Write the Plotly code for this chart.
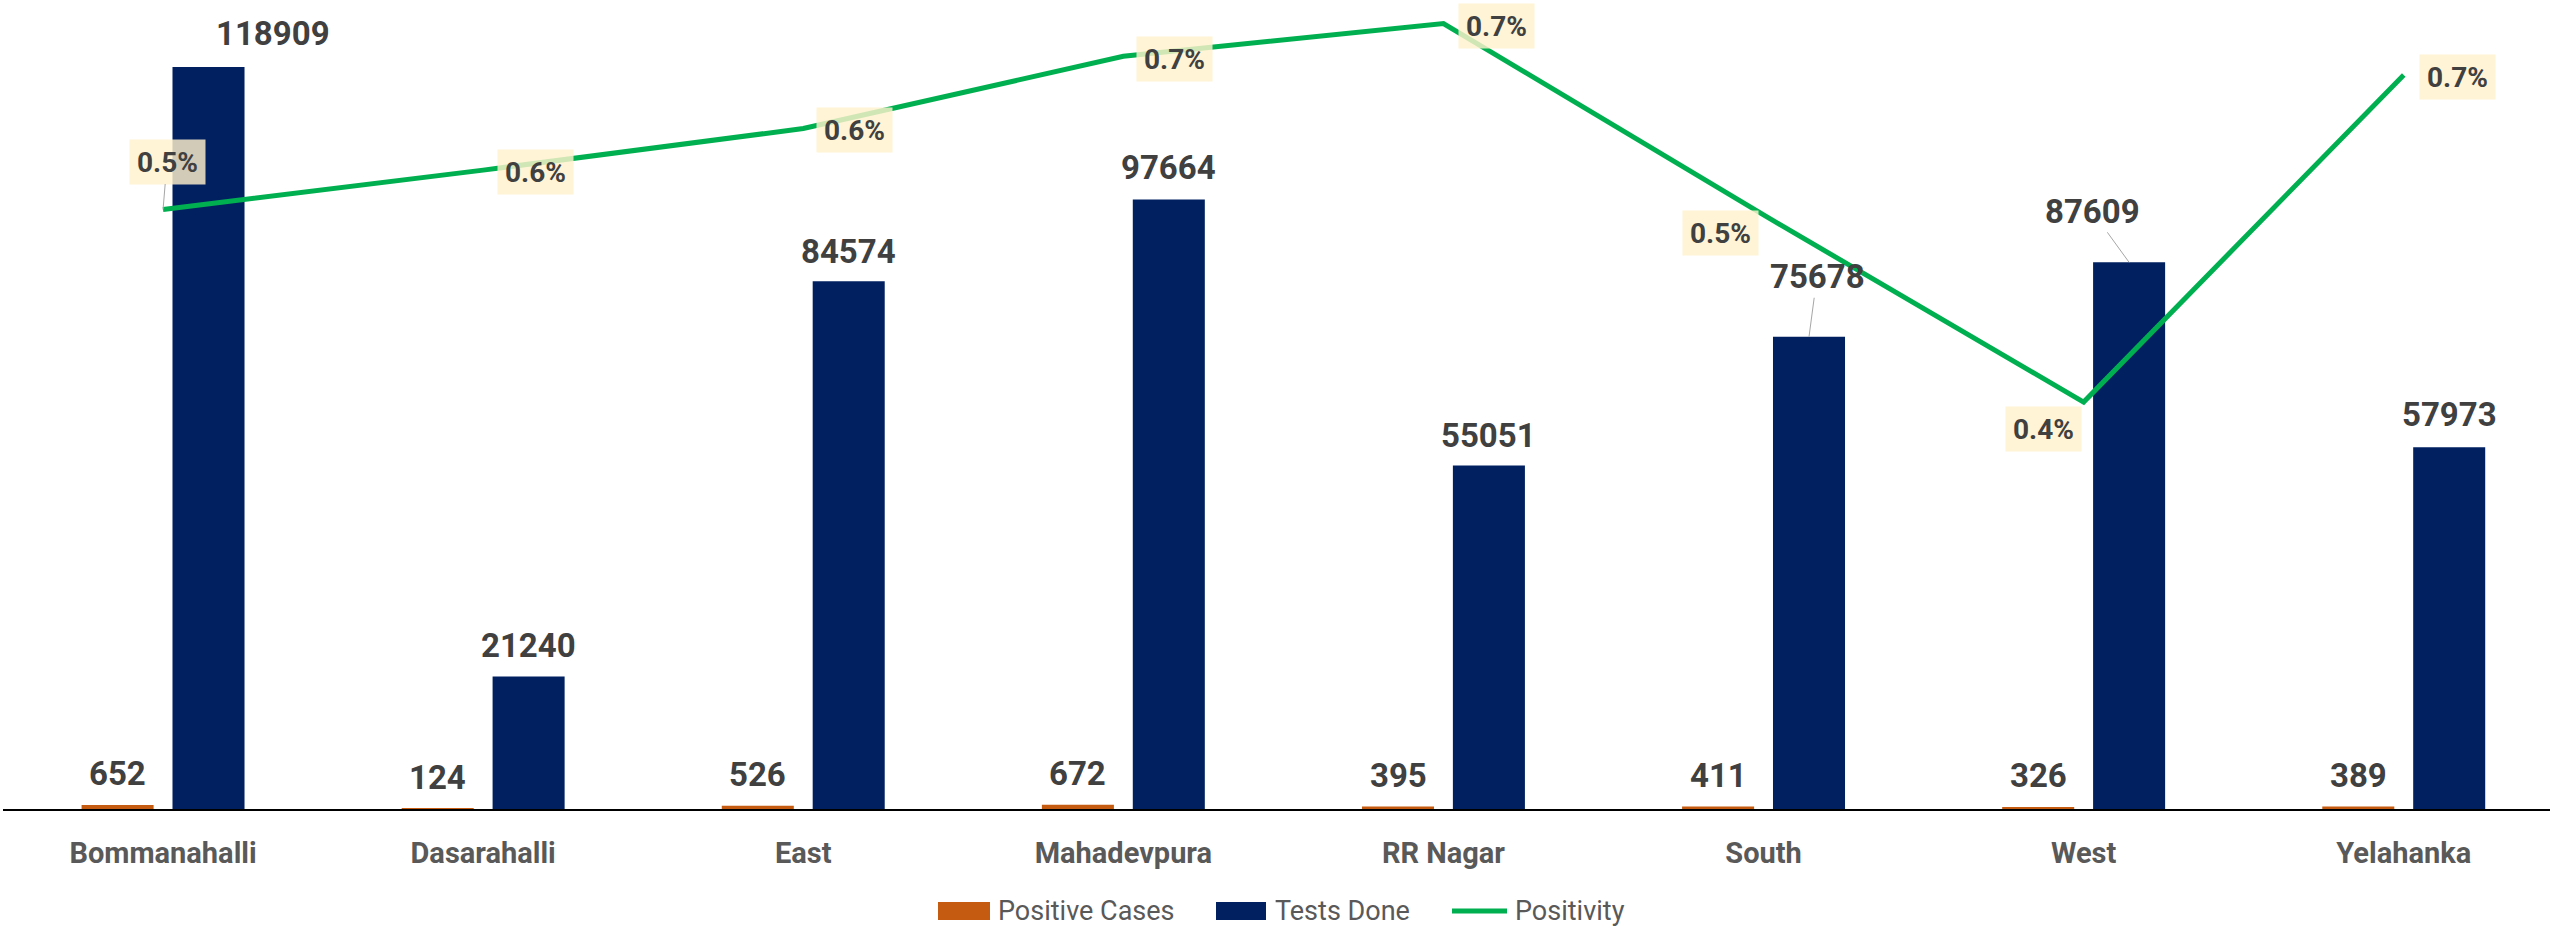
import plotly.graph_objects as go

categories = ["Bommanahalli", "Dasarahalli", "East", "Mahadevpura", "RR Nagar", "South", "West", "Yelahanka"]
positive_cases = [652, 124, 526, 672, 395, 411, 326, 389]
tests_done = [118909, 21240, 84574, 97664, 55051, 75678, 87609, 57973]
positivity = [0.00548, 0.00584, 0.00622, 0.00688, 0.00718, 0.00543, 0.00372, 0.00671]

# label placement (pixel offsets of label centre from the mark), leader-line flags
tests_offsets = [(64, -33), (0, -31), (0, -30), (0, -32), (0, -30), (8, -60), (-37, -51), (0, -33)]
tests_leader = [False, False, False, False, False, True, True, False]
pos_offsets = [(4, -48), (52, 2), (51, 1), (51, 3), (53, 2), (-43, 18), (-40, 27), (54, 2)]
pos_leader = [True, False, False, False, False, False, False, False]

W, H = 2552, 927
ML, MR, MT, MB = 3, 2, 0, 118
PW, PH = W - ML - MR, H - MT - MB
PX_PER_CAT = 320.1

def pxx(x):
    return (x - ML) / PW

def pxy(y):
    return (H - MB - y) / PH

ORANGE = "#C55A11"
NAVY = "#002060"
GREEN = "#00B050"
LABEL = "#404040"
AXIS_TXT = "#595959"
FONT = "Roboto"

BW = 0.225
OFF_O = -0.2545
OFF_T = 0.0295
C_O = OFF_O + BW / 2
C_T = OFF_T + BW / 2

fig = go.Figure()
fig.add_trace(go.Bar(x=categories, y=positive_cases, name="Positive Cases",
                     marker=dict(color=ORANGE, line=dict(width=0)),
                     width=BW, offset=OFF_O, showlegend=False))
fig.add_trace(go.Bar(x=categories, y=tests_done, name="Tests Done",
                     marker=dict(color=NAVY, line=dict(width=0)),
                     width=BW, offset=OFF_T, showlegend=False))
fig.add_trace(go.Scatter(x=categories, y=positivity, name="Positivity", yaxis="y2",
                         mode="lines", line=dict(color=GREEN, width=5),
                         showlegend=False))

ann = []
for i, v in enumerate(positive_cases):
    ann.append(dict(x=i + C_O, y=v, xref="x", yref="y", text=str(v), showarrow=False,
                    yshift=31, font=dict(family=FONT, size=33, color=LABEL, weight="bold")))
for i, v in enumerate(tests_done):
    dx, dy = tests_offsets[i]
    ann.append(dict(x=i + C_T, y=v, xref="x", yref="y", text=str(v), showarrow=True,
                    ax=dx, ay=dy, arrowhead=0, arrowwidth=1, standoff=0,
                    arrowcolor="#A6A6A6" if tests_leader[i] else "rgba(0,0,0,0)",
                    font=dict(family=FONT, size=33, color=LABEL, weight="bold")))
for i, v in enumerate(positivity):
    dx, dy = pos_offsets[i]
    ann.append(dict(x=i, y=v, xref="x", yref="y2", text=f"{v*100:.1f}%", showarrow=True,
                    ax=dx, ay=dy, arrowhead=0, arrowwidth=1, standoff=0,
                    arrowcolor="#A6A6A6" if pos_leader[i] else "rgba(0,0,0,0)",
                    bgcolor="rgba(255,242,204,0.82)", width=75, height=44, borderpad=0,
                    font=dict(family=FONT, size=28, color=LABEL, weight="bold")))

# custom legend
shapes = []
legend_items = [
    ("Positive Cases", "bar", ORANGE, 938, 990, 996),
    ("Tests Done", "bar", NAVY, 1216, 1266, 1273),
    ("Positivity", "line", GREEN, 1452, 1507, 1513),
]
LY = 911
for name, kind, col, x0, x1, tx in legend_items:
    if kind == "bar":
        shapes.append(dict(type="rect", xref="paper", yref="paper",
                           x0=pxx(x0), x1=pxx(x1), y0=pxy(LY + 9), y1=pxy(LY - 9),
                           fillcolor=col, line=dict(width=0)))
    else:
        shapes.append(dict(type="line", xref="paper", yref="paper",
                           x0=pxx(x0), x1=pxx(x1), y0=pxy(LY), y1=pxy(LY),
                           line=dict(color=col, width=5)))
    ann.append(dict(x=pxx(tx), y=pxy(LY), xref="paper", yref="paper", text=name,
                    showarrow=False, xanchor="left", yanchor="middle",
                    font=dict(family=FONT, size=27, color=AXIS_TXT)))

fig.update_layout(
    width=W, height=H,
    margin=dict(l=ML, r=MR, t=MT, b=MB, pad=0),
    paper_bgcolor="white", plot_bgcolor="white",
    barmode="overlay",
    showlegend=False,
    annotations=ann,
    shapes=shapes,
    xaxis=dict(type="category", range=[-0.5, -0.5 + PW / PX_PER_CAT],
               showline=True, linecolor="#000000", linewidth=2,
               showgrid=False, zeroline=False, ticks="",
               ticklabelstandoff=17,
               tickfont=dict(family=FONT, size=29, color=AXIS_TXT, weight="bold")),
    yaxis=dict(range=[0, 129645], visible=False, showgrid=False, zeroline=False),
    yaxis2=dict(range=[0, 0.007395], overlaying="y", side="right", visible=False,
                showgrid=False, zeroline=False),
)

fig.write_html("out.html", config={"displayModeBar": False},
               post_script="document.body.style.margin='0';document.body.style.overflow='hidden';")
